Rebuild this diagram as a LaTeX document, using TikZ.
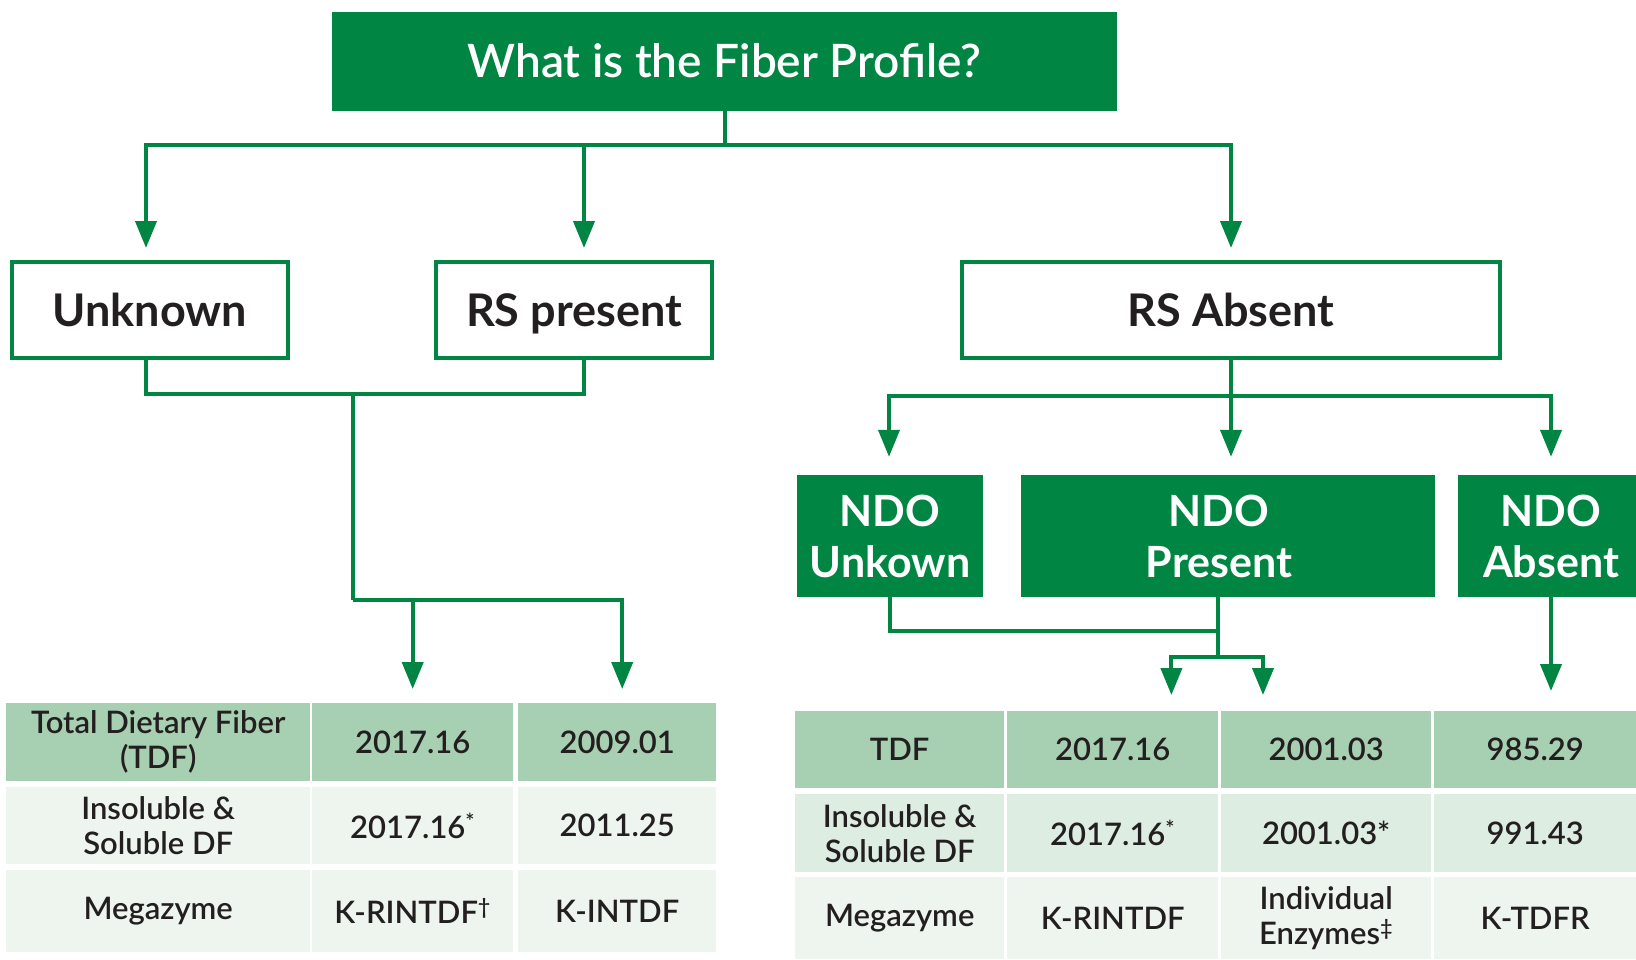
\documentclass[tikz,border=0pt]{standalone}
\usepackage{fontspec}
\setmainfont{Lato}
\newfontfamily\semibold{Lato Semibold}
\usetikzlibrary{arrows.meta,calc,positioning}
\definecolor{fibergreen}{HTML}{008542}
\definecolor{headgreen}{HTML}{A7D0B2}
\definecolor{palegreen}{HTML}{EEF5EF}
\definecolor{midgreen}{HTML}{DDEDE2}
\definecolor{ink}{HTML}{231F20}
\tikzstyle{question} = [rectangle, fill=fibergreen, text=white, font=\semibold\fontsize{46}{50}\selectfont,
    minimum width=785pt, minimum height=99pt, inner sep=0pt]
\tikzstyle{choice} = [rectangle, draw=fibergreen, line width=4pt, text=ink,
    font=\bfseries\fontsize{45}{48}\selectfont, text height=32pt, text depth=0pt,
    minimum height=96pt, inner sep=0pt]
\tikzstyle{ndo} = [rectangle, fill=fibergreen, text=white, align=center,
    font=\bfseries\fontsize{43}{51}\selectfont, minimum height=122pt, inner sep=0pt]
\tikzstyle{cell} = [rectangle, anchor=north west, text=ink, align=center,
    font=\semibold\fontsize{31}{35}\selectfont, inner sep=0pt]
\tikzstyle{headcell} = [cell, fill=headgreen]
\tikzstyle{palecell} = [cell, fill=palegreen]
\tikzstyle{midcell} = [cell, fill=midgreen]
\tikzstyle{line} = [draw=fibergreen, line width=4pt]
\tikzstyle{flow} = [line, -{Triangle[length=27pt, width=21pt]}]

\begin{document}
\begin{tikzpicture}[x=1pt, y=-1pt]
    \useasboundingbox (0,0) rectangle (1636,959);
    % Place nodes
    \node [question] (profile) at (724.5,61) {What is the Fiber Profile?};
    \node [choice, minimum width=276pt] (unknown) at (150,310) {Unknown};
    \node [choice, minimum width=276pt] (rspresent) at (574,310) {RS present};
    \node [choice, minimum width=538pt] (rsabsent) at (1231,310) {RS Absent};
    \node [ndo, minimum width=186pt] (ndounknown) at (890,536) {NDO\\Unkown};
    \node [ndo, minimum width=414pt] (ndopresent) at (1228,536) {\hspace*{-18pt}NDO\\\hspace*{-18pt}Present};
    \node [ndo, minimum width=186pt] (ndoabsent) at (1551,536) {NDO\\Absent};
    % Left table
    \node [headcell, minimum width=304pt, minimum height=78pt] (ltdf) at (6,703) {Total Dietary Fiber\\(TDF)};
    \node [headcell, minimum width=201pt, minimum height=78pt] (l2017) at (312,703) {2017.16};
    \node [headcell, minimum width=198pt, minimum height=78pt] (l2009) at (518,703) {2009.01};
    \node [palecell, minimum width=304pt, minimum height=77pt] (lisdf) at (6,787) {Insoluble \&\\Soluble DF};
    \node [palecell, minimum width=201pt, minimum height=77pt] (l2017s) at (312,787) {2017.16\textsuperscript{*}};
    \node [palecell, minimum width=198pt, minimum height=77pt] (l2011) at (518,787) {2011.25};
    \node [palecell, minimum width=304pt, minimum height=82pt] (lmega) at (6,870) {Megazyme};
    \node [palecell, minimum width=201pt, minimum height=82pt] (lrintdf) at (312,870) {K-RINTDF\textsuperscript{†}};
    \node [palecell, minimum width=198pt, minimum height=82pt] (lintdf) at (518,870) {K-INTDF};
    % Right table
    \node [headcell, minimum width=209pt, minimum height=77pt] (rtdf) at (795,711) {TDF};
    \node [headcell, minimum width=211pt, minimum height=77pt] (r2017) at (1007,711) {2017.16};
    \node [headcell, minimum width=210pt, minimum height=77pt] (r2001) at (1221,711) {2001.03};
    \node [headcell, minimum width=202pt, minimum height=77pt] (r985) at (1434,711) {985.29};
    \node [midcell, minimum width=209pt, minimum height=78pt] (risdf) at (795,794) {Insoluble \&\\Soluble DF};
    \node [midcell, minimum width=211pt, minimum height=78pt] (r2017s) at (1007,794) {2017.16\textsuperscript{*}};
    \node [midcell, minimum width=210pt, minimum height=78pt] (r2001s) at (1221,794) {2001.03*};
    \node [midcell, minimum width=202pt, minimum height=78pt] (r991) at (1434,794) {991.43};
    \node [palecell, minimum width=209pt, minimum height=82pt] (rmega) at (795,877) {Megazyme};
    \node [palecell, minimum width=211pt, minimum height=82pt] (rrintdf) at (1007,877) {K-RINTDF};
    \node [palecell, minimum width=210pt, minimum height=82pt] (renzymes) at (1221,877) {Individual\\Enzymes\textsuperscript{‡}};
    \node [palecell, minimum width=202pt, minimum height=82pt] (rtdfr) at (1434,877) {K-TDFR};
    % Draw edges
    \coordinate (topbar) at (724.5,145);
    \draw [line] (profile) -- (topbar);
    \draw [flow] (topbar) -| ($(unknown.north)+(-4,-12)$);
    \draw [flow] (topbar) -| ($(rspresent.north)+(10,-12)$);
    \draw [flow] (topbar) -| ($(rsabsent.north)+(0,-12)$);
    \coordinate (unknownout) at ($(unknown.south)+(-4,0)$);
    \coordinate (rspresentout) at ($(rspresent.south)+(10,0)$);
    \coordinate (leftbar) at (353,394);
    \coordinate (tablebar) at (353,600);
    \draw [line] (unknownout) |- (leftbar -| rspresentout) -- (rspresentout);
    \draw [line] (leftbar) -- (tablebar);
    \draw [flow] (tablebar) -| ($(l2017.north)+(0,-14)$);
    \draw [flow] (tablebar) -| ($(l2009.north)+(5,-14)$);
    \coordinate (absentbar) at (1231,396);
    \draw [line] (rsabsent) -- (absentbar);
    \draw [flow] (absentbar) -| ($(ndounknown.north)+(-1,-18)$);
    \draw [flow] (absentbar) -- ($(absentbar |- ndopresent.north)+(0,-18)$);
    \draw [flow] (absentbar) -| ($(ndoabsent.north)+(0,-18)$);
    \coordinate (ndojoin) at (1218,631);
    \coordinate (ndosplit) at (1218,657);
    \draw [line] (ndounknown.south) |- (ndojoin);
    \draw [line] (ndopresent.south -| ndojoin) -- (ndosplit);
    \draw [flow] (ndosplit) -| ($(r2017.north east)+(-47,-16)$);
    \draw [flow] (ndosplit) -| ($(r2001.north west)+(42,-16)$);
    \draw [flow] (ndoabsent) -- ($(ndoabsent.south |- r985.north)+(0,-20)$);
\end{tikzpicture}
\end{document}
